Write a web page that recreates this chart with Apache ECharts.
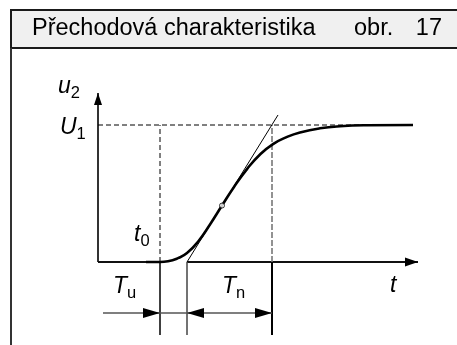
<!DOCTYPE html>
<html><head><meta charset="utf-8">
<script src="https://cdn.jsdelivr.net/npm/echarts@6/dist/echarts.min.js"></script>
<style>html,body{margin:0;padding:0;background:#fff}#c{width:457px;height:345px}</style>
</head><body><div id="c"></div>
<script>
// Step response of a process with delay; u normalised so that U1 = 1
const curveT = [4.8, 6.2, 7.0, 8.0, 8.9, 10.0, 11.2, 12.4, 13.6, 14.9, 16.2, 17.5, 18.9, 20.2, 22.2, 24.2, 26.9, 31.5];
const curveU = [0, 0, 0.005, 0.028, 0.065, 0.148, 0.274, 0.412, 0.548, 0.678, 0.785, 0.861, 0.913, 0.946, 0.976, 0.991, 0.998, 1.0];
const U1 = 1.0;
const t0 = 6.2;             // response starts
const tA = 8.9;             // tangent meets the time axis
const tB = 17.4;            // tangent meets U1
const inflection = [12.4, 0.412];
const tangentEnd = [18.0, 1.073];
const tMax = 32, uMax = 1.234, uMin = -0.533;
const dimLevel = -0.372, dimStart = 0.5;
const dashEnd = 31.5;

const FONT = '"Liberation Sans", Arial, Helvetica, sans-serif';

// plot area: 10 px per time unit, 137 px per U1
const pxT = 10, pxU = 137, axisX = 98, axisY = 262;
const grid = {
  left: axisX, width: tMax * pxT,
  top: axisY - uMax * pxU, height: (uMax - uMin) * pxU
};

function seg(pairs) {
  const out = [];
  pairs.forEach((p, i) => { if (i) out.push(null); out.push(p[0], p[1]); });
  return out;
}
function lineSeries(data, style) {
  return { type: 'line', data, showSymbol: false, symbol: 'none', silent: true,
           connectNulls: false, lineStyle: style, z: 2 };
}

const R = 'path://M0,0L10,5L0,10Z', L = 'path://M10,0L0,5L10,10Z', U = 'path://M0,10L5,0L10,10Z';
const arrowHeads = [
  { value: [tMax, 0], symbol: R, symbolSize: [13, 9], symbolOffset: [-6.5, 0] },
  { value: [0, uMax], symbol: U, symbolSize: [8, 12], symbolOffset: [0, 6] },
  { value: [t0, dimLevel], symbol: R, symbolSize: [17, 10], symbolOffset: [-8.5, 0] },
  { value: [tA, dimLevel], symbol: L, symbolSize: [17, 10], symbolOffset: [8.5, 0] },
  { value: [tB, dimLevel], symbol: R, symbolSize: [17, 10], symbolOffset: [-8.5, 0] }
];

function sym(main, sub, x, baseline) {
  return {
    type: 'text', x, y: baseline - 23, silent: true, z: 20,
    style: {
      text: '{m|' + main + '}{s|' + sub + '}', verticalAlign: 'top',
      rich: {
        m: { fontFamily: FONT, fontStyle: 'italic', fontSize: 23, lineHeight: 30, fill: '#000' },
        s: { fontFamily: FONT, fontSize: 16.5, lineHeight: 12, verticalAlign: 'bottom', fill: '#000' }
      }
    }
  };
}

const chart = echarts.init(document.getElementById('c'), null, { renderer: 'canvas' });
chart.setOption({
  animation: false,
  backgroundColor: '#fff',
  grid,
  xAxis: { type: 'value', min: 0, max: tMax, show: false },
  yAxis: { type: 'value', min: uMin, max: uMax, show: false },
  series: [
    // coordinate axes
    lineSeries(seg([[[0, 0], [0, uMax]]]), { color: '#333', width: 2 }),
    lineSeries(seg([[[0, 0], [t0, 0]], [[tA, 0], [tMax, 0]]]), { color: '#111', width: 2 }),
    // U1 level and t0 helper
    lineSeries(seg([[[0, U1], [dashEnd, U1]], [[t0, 0], [t0, U1]]]), { color: '#000', width: 1, type: [5, 3] }),
    lineSeries(seg([[[tB, 0], [tB, U1]]]), { color: '#777', width: 1.6, type: [6, 2] }),
    // extension lines below the axis
    lineSeries(seg([[[t0, 0], [t0, uMin]]]), { color: '#000', width: 1.5 }),
    lineSeries(seg([[[tA, 0], [tA, uMin]]]), { color: '#444', width: 1.5 }),
    lineSeries(seg([[[tB, 0], [tB, uMin]]]), { color: '#000', width: 2 }),
    // dimension line
    lineSeries(seg([[[dimStart, dimLevel], [tB, dimLevel]]]), { color: '#555', width: 1.5 }),
    // tangent through the inflection point
    lineSeries(seg([[[tA, 0], tangentEnd]]), { color: '#000', width: 1 }),
    // response curve
    {
      type: 'line', data: curveT.map((t, i) => [t, curveU[i]]), smooth: 0.5,
      showSymbol: false, symbol: 'none', silent: true, lineStyle: { color: '#000', width: 2.6 }, z: 3
    },
    {
      type: 'scatter', data: [inflection], symbol: 'circle', symbolSize: 5, silent: true, z: 5,
      itemStyle: { color: '#fff', borderColor: '#000', borderWidth: 1 }
    },
    {
      type: 'scatter', data: arrowHeads, silent: true, z: 6,
      itemStyle: { color: '#000', opacity: 1 }
    }
  ],
  graphic: [
    { type: 'rect', shape: { x: 11, y: 10, width: 470, height: 38 }, silent: true, z: 0,
      style: { fill: '#f0f0f0', stroke: '#1a1a1a', lineWidth: 2 } },
    { type: 'line', shape: { x1: 11, y1: 48, x2: 11, y2: 345 }, silent: true,
      style: { stroke: '#333', lineWidth: 2 } },
    { type: 'text', x: 32, y: 29, silent: true, z: 10,
      style: { text: 'Přechodová charakteristika', font: '23.5px ' + FONT, fill: '#000', verticalAlign: 'middle' } },
    { type: 'text', x: 354, y: 29, silent: true, z: 10,
      style: { text: 'obr.', font: '23.5px ' + FONT, fill: '#000', verticalAlign: 'middle' } },
    { type: 'text', x: 442, y: 29, silent: true, z: 10,
      style: { text: '17', font: '23.5px ' + FONT, fill: '#000', align: 'right', verticalAlign: 'middle' } },
    sym('u', '2', 58, 95),
    sym('U', '1', 60, 136),
    sym('t', '0', 134, 243),
    sym('T', 'u', 113, 295),
    sym('T', 'n', 222, 295),
    { type: 'text', x: 390, y: 297 - 23, silent: true, z: 20,
      style: { text: 't', font: 'italic 23px ' + FONT, fill: '#000', verticalAlign: 'top' } }
  ]
});
</script>
</body></html>
